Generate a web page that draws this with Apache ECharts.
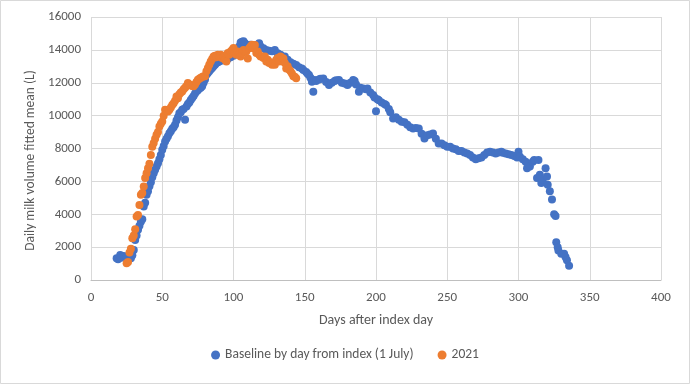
<!DOCTYPE html>
<html><head><meta charset="utf-8">
<script src="https://cdn.jsdelivr.net/npm/echarts@6/dist/echarts.min.js"></script>
<style>html,body{margin:0;padding:0;background:#fff}#c{width:690px;height:384px}</style>
</head><body><div id="c"></div>
<script>
var baselineName = 'Baseline by day from index (1 July)';
var y2021Name = '2021';
var xTicks = [0,50,100,150,200,250,300,350,400];
var yTicks = [0,2000,4000,6000,8000,10000,12000,14000,16000];

var baselineDays = [18,19,20.5,21,23,25,27,28,29,30,31,32,33,34,35,36,37,38,39,40,41,42,43,44,45,46,47,48,49,50,51,52,53,54,55,56,57,58,59,60,61,62,63,64,65,66,67,68,69,70,71,72,73,74,75,76,77,78,79,80,81,82,83,84,85,86,87,88,89,90,92,94,96,98,100,102,104,105,106,107,108,110,112,114,116,118,119,121,123,125,127,129,131,133,134,136,138,140,142,144,146,148,149,151,152,153,154,155,156,157,158,160,161,163,165,167,169,171,172,174,176,178,180,182,184,185,186,188,189,191,193,194,196,198,199,200,201,202,204,206,207,209,210,212,214,216,218,220,222,224,226,228,230,232,234,236,238,240,242,244,246,248,250,252,254,256,258,260,262,264,266,268,270,272,274,276,278,280,282,284,286,288,289,291,293,295,297,299,300,301,303,305,306,308,310,311,313,314,315,316,317,319,320,320.5,322,323.5,325,326,326.5,327.5,328,330,332,333,334,335.5];
var baselineValues = [1320,1260,1520,1350,1460,1400,1350,1320,1500,1830,2440,2700,3050,3300,3550,3700,4470,4700,5180,5400,5700,5950,6250,6500,6700,6900,7110,7350,7600,7920,8150,8430,8600,8750,8930,9050,9200,9300,9440,9700,9900,10150,10200,10350,10400,9750,10560,10700,10800,10950,11070,11200,11350,11470,11550,11650,11700,11780,12000,12200,12490,12600,12700,12800,12890,13000,13100,13200,13250,13300,13350,13400,13450,13550,13650,13810,14200,14450,14500,14520,14400,14300,14310,14250,14300,14400,14210,14100,14000,13950,13910,14000,13800,13700,13580,13600,13400,13250,13150,13080,12950,12870,12770,12650,12550,12470,12300,12060,11450,12170,12100,12200,12250,12260,12050,11860,12000,12100,12150,12160,12000,11950,11860,12000,12160,12100,11900,11450,11700,11650,11600,11650,11400,11250,11100,10270,11000,10940,10800,10700,10640,10400,10200,9830,9900,9750,9620,9600,9450,9300,9220,9250,9220,8900,8610,8800,8850,8910,8600,8300,8300,8200,8100,8100,8000,7950,7850,7850,7750,7700,7600,7450,7340,7400,7460,7600,7750,7800,7750,7700,7750,7800,7740,7700,7650,7600,7550,7450,7800,7500,7350,7200,6800,6900,7200,7300,6200,7300,6400,5900,6100,6800,6300,5800,5400,4900,4000,3900,2300,2000,1800,1600,1600,1400,1200,860];

var y2021Days = [25,26,27,28,29,30,31,32,33,34,35,36,37,38,39,40,41,42,43,44,45,46,47,48,49,50,51,52,53,54,55,56,57,58,59,60,61,62,63,64,65,66,67,68,69,70,71,72,73,74,75,76,77,78,79,80,81,82,83,84,85,86,87,88,89,90,91,92,93,94,95,96,97,98,99,100,101,102,103,104,105,106,107,108,109,110,111,112,113,114,115,116,117,118,119,120,121,122,123,124,125,126,127,128,129,130,131,132,133,134,135,136,137,138,139,140,141,142,143,144];
var y2021Values = [1015,1100,1670,1900,2540,2700,3090,3860,3950,4570,5180,5300,5690,6200,6500,6800,7070,7610,8100,8330,8600,8830,9000,9340,9500,9650,10000,10360,10300,10250,10350,10500,10650,10760,10900,11170,11050,11300,11400,11470,11600,11700,11800,11980,11900,11850,11800,11780,11900,12050,12180,12250,12300,12350,12400,12390,12700,12900,13100,13300,13450,13600,13650,13550,13700,13650,13700,13500,13600,13400,13300,13810,13700,13900,14000,14110,13800,13700,13900,13750,13600,13800,14000,13900,13900,13480,14100,14200,14310,14100,14300,13810,13900,13700,13600,13600,13500,13600,13300,13400,13200,13250,13100,13180,13100,13400,13500,13300,13600,13500,13480,13200,12870,13000,12800,12700,12570,12400,12370,12270];

function pairs(xs, ys){ return xs.map(function(x,i){ return [x, ys[i]]; }); }

var font = 'Carlito, Calibri, "Liberation Sans Narrow", "Open Sans", sans-serif';
var chart = echarts.init(document.getElementById('c'), null, {renderer:'canvas'});
chart.setOption({
  animation:false,
  backgroundColor:'#fff',
  textStyle:{fontFamily:font},
  grid:{left:91, right:29, top:17, bottom:104, containLabel:false},
  xAxis:{type:'value', min:xTicks[0], max:xTicks[xTicks.length-1], interval:50,
    name:'Days after index day', nameLocation:'middle', nameGap:33,
    nameTextStyle:{color:'#595959', fontSize:14, fontFamily:font},
    axisLine:{show:true, lineStyle:{color:'#BFBFBF'}}, axisTick:{show:false},
    axisLabel:{color:'#595959', fontSize:13, margin:11, fontFamily:font, formatter:function(v){return String(v);}},
    splitLine:{show:true, lineStyle:{color:'#D9D9D9'}}},
  yAxis:{type:'value', min:yTicks[0], max:yTicks[yTicks.length-1], interval:2000,
    name:'Daily milk volume fitted mean (L)', nameLocation:'middle', nameGap:52,
    nameTextStyle:{color:'#595959', fontSize:13.5, fontFamily:font, padding:[0,24,0,0]},
    axisLine:{show:false}, axisTick:{show:false},
    axisLabel:{color:'#595959', fontSize:13, margin:10, fontFamily:font, formatter:function(v){return String(v);}},
    splitLine:{show:true, lineStyle:{color:'#D9D9D9'}}},
  legend:{bottom:17, left:'center', itemWidth:9, itemHeight:9, itemGap:24,
    textStyle:{color:'#595959', fontSize:13.5, fontFamily:font},
    data:[{name:baselineName, icon:'circle'},{name:y2021Name, icon:'circle'}]},
  series:[
    {name:baselineName, type:'scatter', symbolSize:8, itemStyle:{color:'#4472C4', opacity:1}, data:pairs(baselineDays, baselineValues)},
    {name:y2021Name, type:'scatter', symbolSize:8, itemStyle:{color:'#ED7D31', opacity:1}, data:pairs(y2021Days, y2021Values)}
  ],
  graphic:[{type:'rect', shape:{x:0.5,y:0.5,width:689,height:383}, style:{fill:'none', stroke:'#D9D9D9', lineWidth:1}, silent:true}]
});
</script></body></html>
